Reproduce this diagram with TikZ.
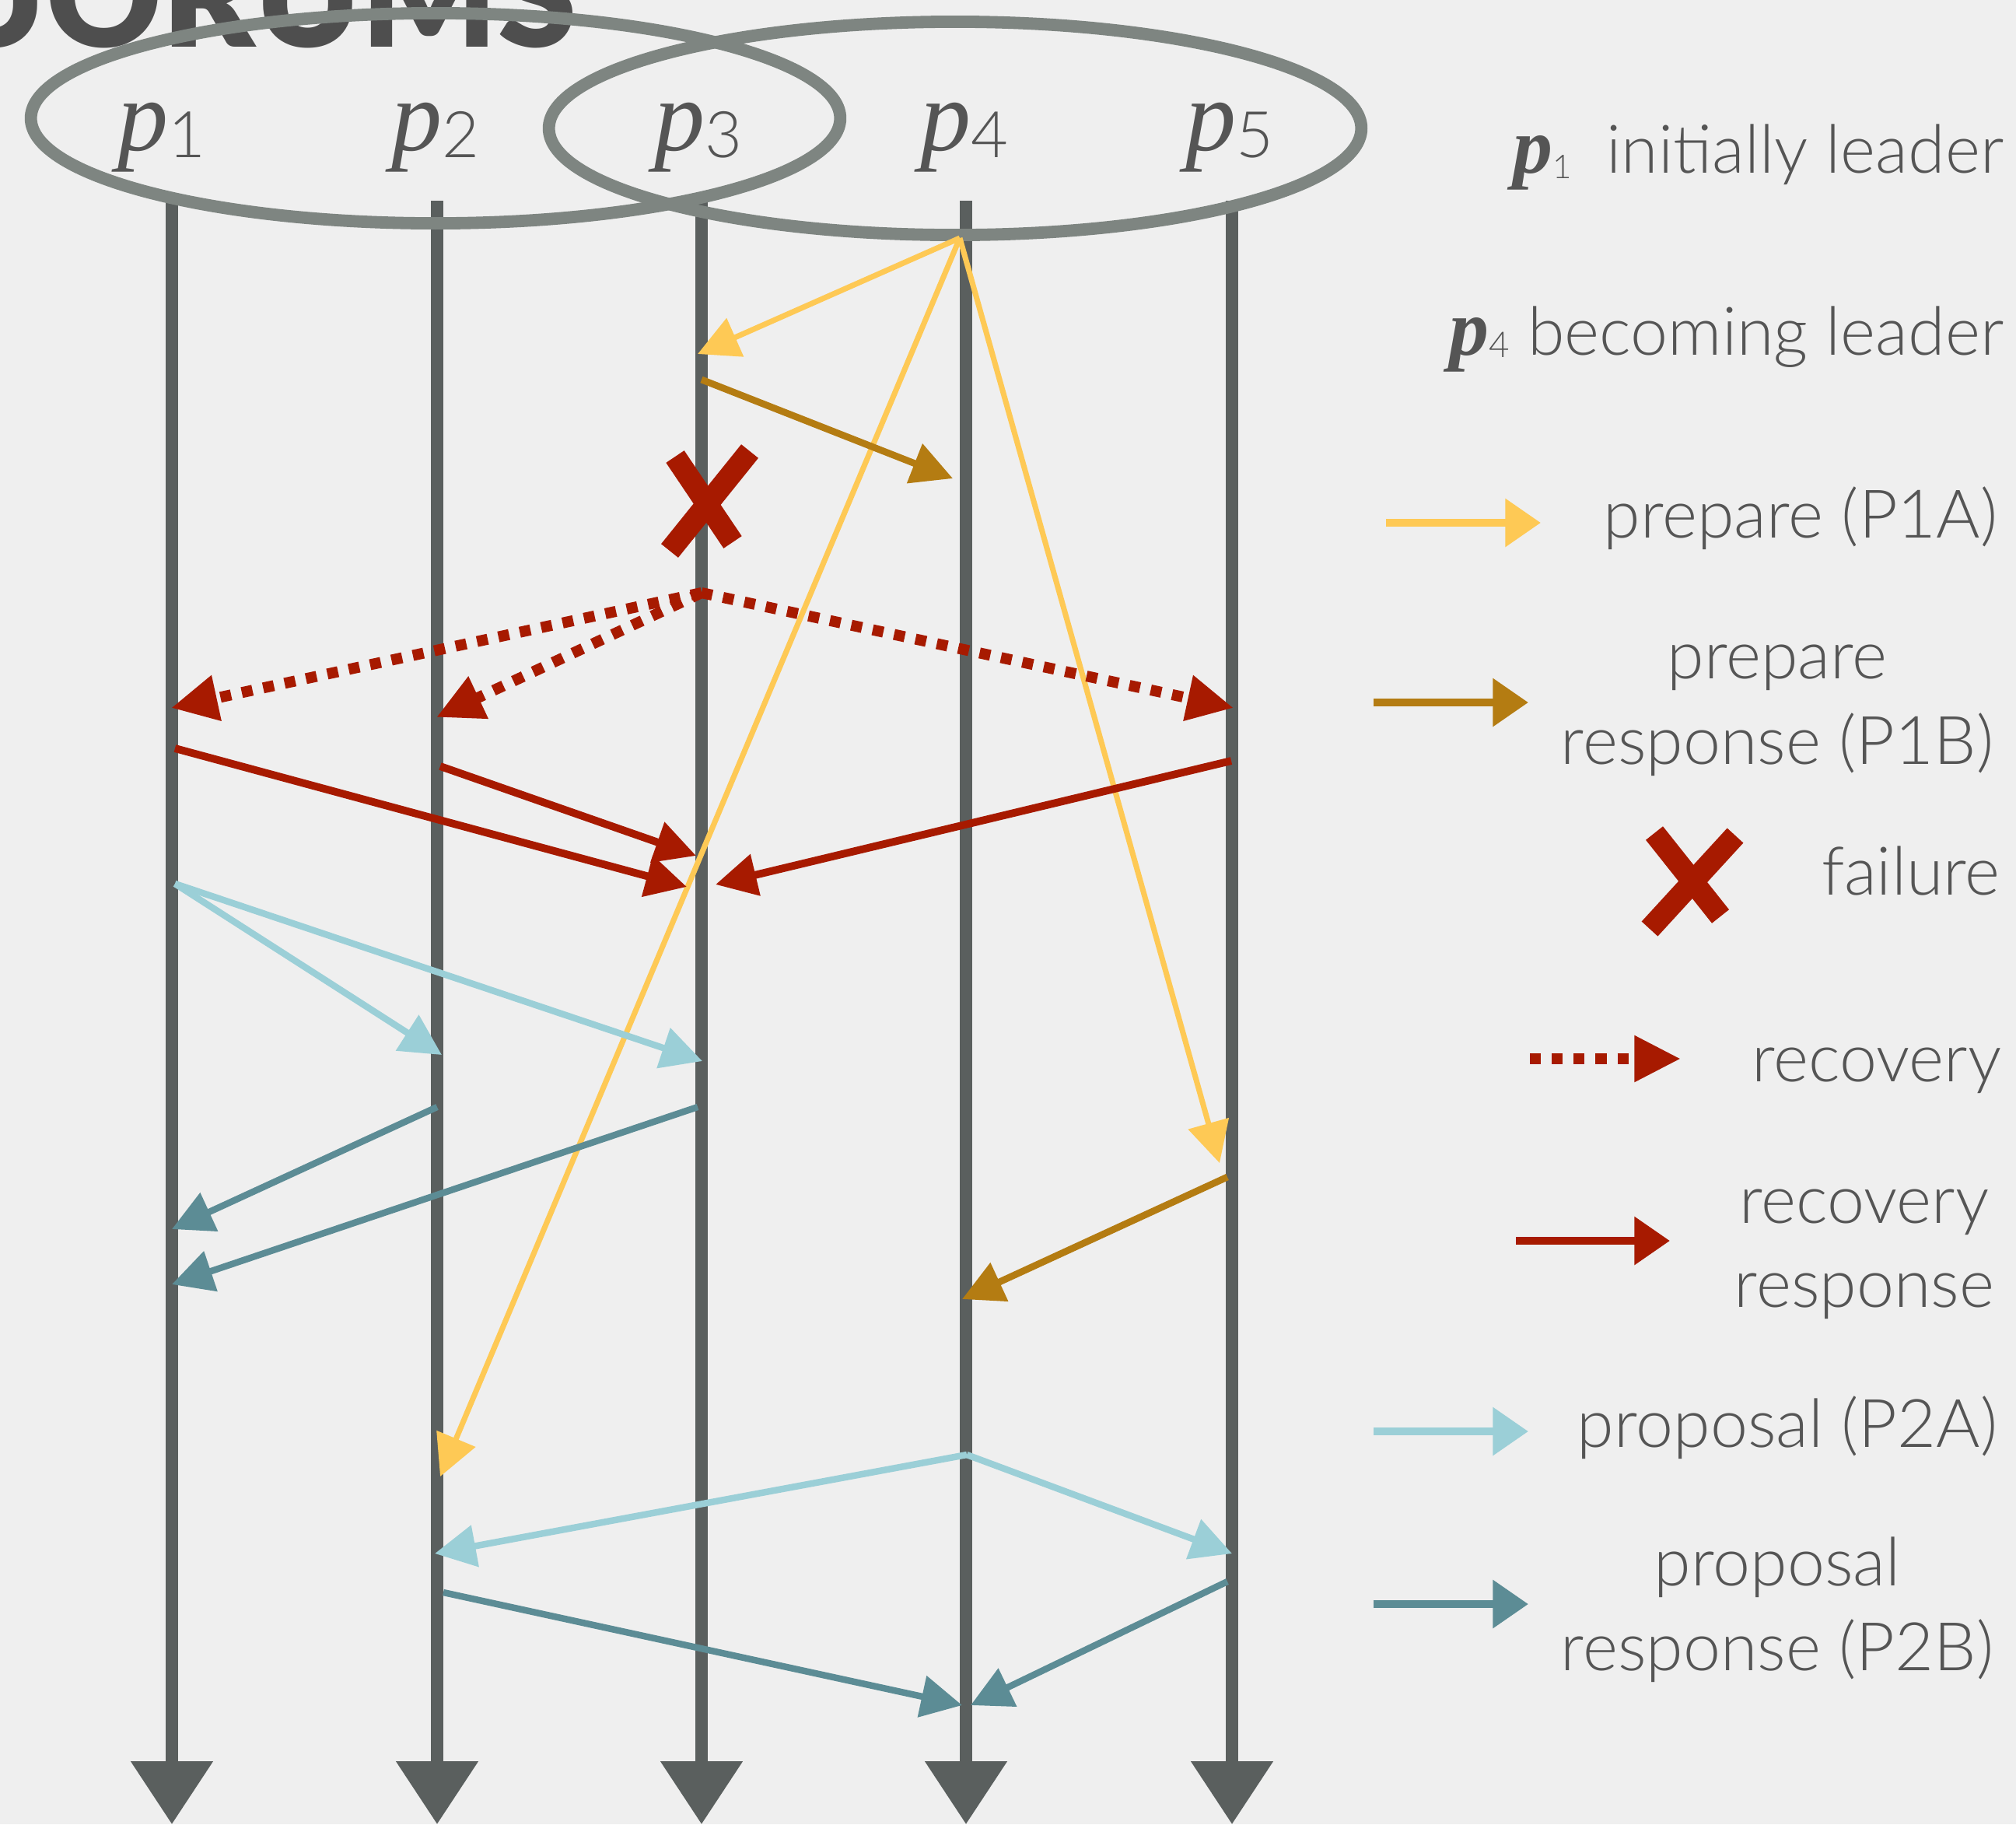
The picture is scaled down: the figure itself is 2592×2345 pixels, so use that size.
\documentclass[tikz,border=0pt]{standalone}
\usepackage{fontspec}
\setmainfont{Lato Light}
\newfontfamily\pfont{Liberation Serif}
\newfontfamily\titlefont{Lato Black}
\usetikzlibrary{arrows.meta}
\definecolor{bg}{HTML}{EFEFEF}
\definecolor{lifec}{HTML}{5A5F5E}
\definecolor{quorumc}{HTML}{7E8581}
\definecolor{prepc}{HTML}{FEC955}
\definecolor{prepresc}{HTML}{B47C12}
\definecolor{recovc}{HTML}{A71A00}
\definecolor{propc}{HTML}{9BCFD7}
\definecolor{propresc}{HTML}{5C8C95}
\definecolor{txtc}{HTML}{555555}
\definecolor{titlec}{HTML}{4E4E4E}
\begin{document}
\begin{tikzpicture}[x=0.01cm,y=-0.01cm,
  lifeline/.style={color=lifec, line width=4.3pt, -{Triangle[length=23pt,width=29pt]}},
  msg/.style={-{Triangle[length=15pt,width=15pt]}},
  pa/.style={msg, color=prepc, line width=2pt},
  pb/.style={msg, color=prepresc, line width=2.5pt},
  rq/.style={color=recovc, line width=4pt, dash pattern=on 4pt off 4pt, -{Triangle[length=17pt,width=16pt]}},
  rr/.style={msg, color=recovc, line width=2.8pt},
  qa/.style={msg, color=propc, line width=2.4pt},
  qb/.style={msg, color=propresc, line width=2.4pt},
  legarrow/.style={line width=3pt, -{Triangle[length=13pt,width=17pt]}},
  lbl/.style={inner sep=0pt, text=txtc, font=\fontsize{24.5pt}{30pt}\selectfont},
  plbl/.style={inner sep=0pt, text=txtc, anchor=base},
  failx/.style={color=recovc, line width=8pt},
  quorum/.style={draw=quorumc, line width=4.5pt}
]
\clip (0,0) rectangle (2592,2345);
\fill[bg] (0,0) rectangle (2592,2345);

% title (cut off at the top edge, as in the reference)
\node[inner sep=0pt, anchor=base east, text=titlec, font=\titlefont\fontsize{52pt}{52pt}\selectfont] (title) at (742,60) {QUORUMS};

% lifelines
\foreach \i/\x in {1/221,2/562,3/902,4/1242,5/1584}{
  \coordinate (t\i) at (\x,258);
  \coordinate (b\i) at (\x,2345);
  \draw[lifeline] (t\i) -- (b\i);
}

% quorums
\draw[quorum] (560,152) ellipse [x radius=5.2cm, y radius=1.35cm];
\draw[quorum] (1228,165) ellipse [x radius=5.22cm, y radius=1.37cm];

% process labels
\foreach \i/\x in {1/208,2/560,3/898,4/1240,5/1581}{
  \node[plbl] (p\i) at (\x,193) {{\pfont\itshape\fontsize{37pt}{37pt}\selectfont p}\raisebox{-2.8pt}{\fontsize{23.5pt}{23.5pt}\selectfont\i}};
}

% prepare (P1A)
\coordinate (A0) at (1234,306);
\coordinate (A3) at (897,455);
\coordinate (A2) at (566,1898);
\coordinate (A5) at (1568,1495);
\draw[pa] (A0) -- (A3);
\draw[pa] (A0) -- (A2);
\draw[pa] (A0) -- (A5);

% prepare response (P1B)
\coordinate (B3) at (902,488);
\coordinate (B4a) at (1225,615);
\coordinate (B5) at (1578,1513);
\coordinate (B4b) at (1237,1670);
\draw[pb] (B3) -- (B4a);
\draw[pb] (B5) -- (B4b);

% failure of p3
\coordinate (X1a) at (868,587);
\coordinate (X1b) at (942,697);
\coordinate (X2a) at (964,580);
\coordinate (X2b) at (861,708);
\draw[failx] (X1a) -- (X1b);
\draw[failx] (X2a) -- (X2b);

% recovery
\coordinate (R0) at (902,762);
\coordinate (R1) at (220,910);
\coordinate (R2) at (561,922);
\coordinate (R5) at (1586,910);
\draw[rq] (R0) -- (R1);
\draw[rq] (R0) -- (R2);
\draw[rq] (R0) -- (R5);

% recovery response
\coordinate (S1) at (225,962);
\coordinate (S3a) at (883,1140);
\coordinate (S2) at (566,985);
\coordinate (S3b) at (895,1100);
\coordinate (S5) at (1583,978);
\coordinate (S3c) at (920,1137);
\draw[rr] (S1) -- (S3a);
\draw[rr] (S2) -- (S3b);
\draw[rr] (S5) -- (S3c);

% proposal (P2A)
\coordinate (C1) at (225,1136);
\coordinate (C2) at (568,1356);
\coordinate (C3) at (903,1364);
\coordinate (C4) at (1243,1870);
\coordinate (C2b) at (559,1997);
\coordinate (C5) at (1584,1997);
\draw[qa] (C1) -- (C2);
\draw[qa] (C1) -- (C3);
\draw[qa] (C4) -- (C2b);
\draw[qa] (C4) -- (C5);

% proposal response (P2B)
\coordinate (D2) at (562,1423);
\coordinate (D1a) at (221,1580);
\coordinate (D3) at (897,1423);
\coordinate (D1b) at (221,1651);
\coordinate (D2b) at (570,2047);
\coordinate (D4a) at (1237,2192);
\coordinate (D5) at (1578,2033);
\coordinate (D4b) at (1248,2192);
\draw[qb] (D2) -- (D1a);
\draw[qb] (D3) -- (D1b);
\draw[qb] (D2b) -- (D4a);
\draw[qb] (D5) -- (D4b);

% legend
\node[lbl, anchor=base east] (lg1) at (2577,222) {{\pfont\bfseries\itshape\fontsize{29pt}{29pt}\selectfont p}\raisebox{-2pt}{\fontsize{12pt}{12pt}\selectfont 1}\hspace{6pt} initially leader};
\node[lbl, anchor=base east] (lg2) at (2577,456) {{\pfont\bfseries\itshape\fontsize{29pt}{29pt}\selectfont p}\raisebox{-1pt}{\fontsize{13pt}{13pt}\selectfont 4} becoming leader};

\coordinate (L1s) at (1782,672);
\coordinate (L1e) at (1981,672);
\draw[legarrow, color=prepc] (L1s) -- (L1e);
\node[lbl, anchor=base east] (lg3) at (2569,691) {prepare (P1A)};

\coordinate (L2s) at (1766,903);
\coordinate (L2e) at (1965,903);
\draw[legarrow, color=prepresc] (L2s) -- (L2e);
\node[lbl, anchor=base] (lg4a) at (2285,872) {prepare};
\node[lbl, anchor=base] (lg4b) at (2285,982) {response (P1B)};

\coordinate (LXa) at (2127,1071);
\coordinate (LXb) at (2212,1178);
\coordinate (LXc) at (2231,1074);
\coordinate (LXd) at (2121,1194);
\draw[failx] (LXa) -- (LXb);
\draw[failx] (LXc) -- (LXd);
\node[lbl, anchor=base east] (lg5) at (2572,1150) {failure};

\coordinate (L3s) at (1967,1361);
\coordinate (L3e) at (2161,1361);
\draw[rq] (L3s) -- (L3e);
\node[lbl, anchor=base east] (lg6) at (2574,1390) {recovery};

\coordinate (L4s) at (1949,1595);
\coordinate (L4e) at (2147,1595);
\draw[legarrow, color=recovc] (L4s) -- (L4e);
\node[lbl, anchor=base] (lg7a) at (2397,1572) {recovery};
\node[lbl, anchor=base] (lg7b) at (2397,1680) {response};

\coordinate (L5s) at (1766,1840);
\coordinate (L5e) at (1965,1840);
\draw[legarrow, color=propc] (L5s) -- (L5e);
\node[lbl, anchor=base east] (lg8) at (2569,1860) {proposal (P2A)};

\coordinate (L6s) at (1766,2062);
\coordinate (L6e) at (1965,2062);
\draw[legarrow, color=propresc] (L6s) -- (L6e);
\node[lbl, anchor=base] (lg9a) at (2285,2038) {proposal};
\node[lbl, anchor=base] (lg9b) at (2285,2147) {response (P2B)};
\end{tikzpicture}
\end{document}
